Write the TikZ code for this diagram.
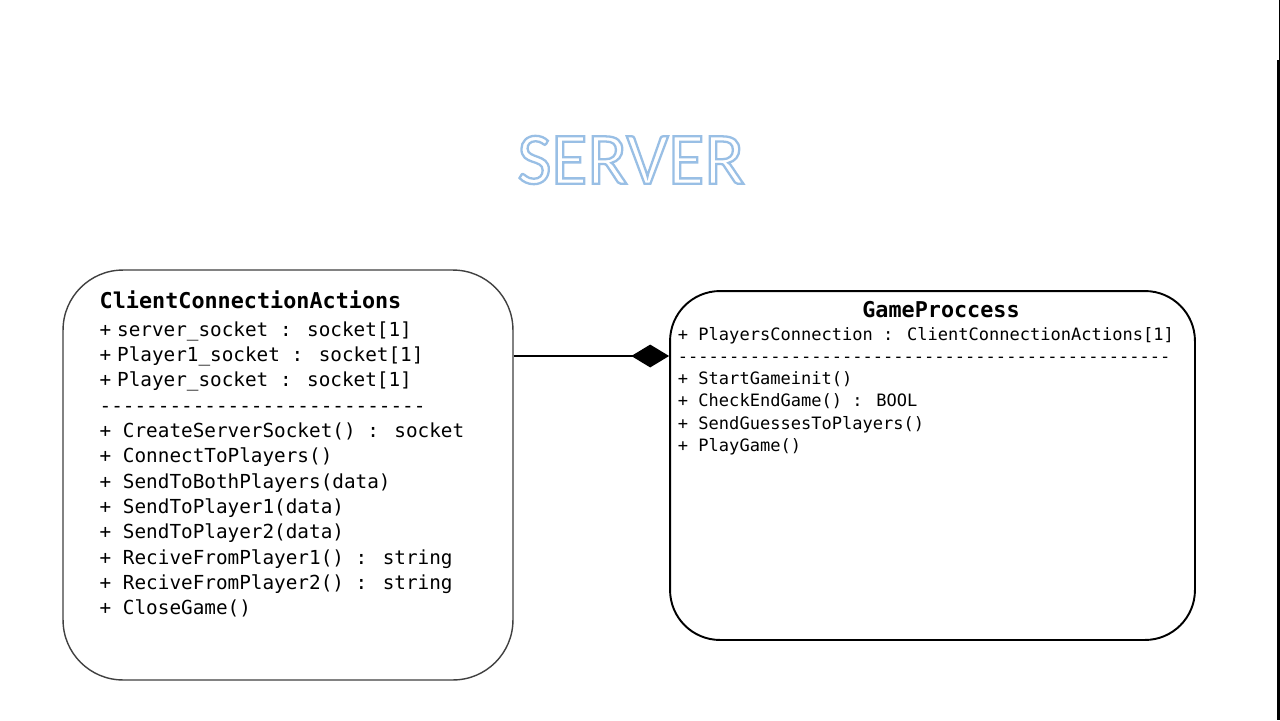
\documentclass[tikz,border=0pt]{standalone}
\usepackage{fontspec}
\setmainfont{Carlito}
\newfontfamily\umlfont[Ligatures=TeXOff]{DejaVu Sans Mono}
\usetikzlibrary{arrows.meta,positioning}
\newcommand\outlinetext[1]{\special{pdf:literal direct 2 Tr 1.3 w 0.60 0.75 0.90 RG 1 g}#1\special{pdf:literal direct 0 Tr 0 g}}
\tikzset{classbox/.style={draw,fill=white,line width=0.8pt}}
\tikzset{ccabox/.style={classbox,draw=black!75,minimum width=9cm,minimum height=8.2cm,rounded corners=1.2cm}}
\tikzset{gpbox/.style={classbox,line width=1.1pt,minimum width=10.5cm,minimum height=6.98cm,rounded corners=1cm}}
\tikzset{classtitle/.style={inner sep=0pt,font=\umlfont\bfseries\fontsize{12.4}{15}\selectfont}}
\tikzset{ccabody/.style={inner sep=0pt,align=left,font=\umlfont\fontsize{11}{14.4}\selectfont}}
\tikzset{gpbody/.style={inner sep=0pt,align=left,font=\umlfont\fontsize{9.7}{12.6}\selectfont}}
\tikzset{composition/.style={draw,line width=1.1pt,-{Diamond[length=21.5pt,width=13pt]}}}
\tikzset{headline/.style={inner sep=0pt,font=\fontsize{42}{48}\selectfont}}

\begin{document}
\begin{tikzpicture}[x=0.02cm,y=-0.02cm]
    \fill[white] (0,0) rectangle (1280,720);
    \useasboundingbox (0,0) rectangle (1280,720);
    \fill (1277,60) rectangle (1280,720);
    \fill (1279,0) rectangle (1280,60);

    % title, white letters with a blue outline
    \node[headline] (title) at (631,160) {\outlinetext{SERVER}};

    % classes
    \node[ccabox] (cca) at (288,475) {};
    \node[gpbox] (gp) at (932.5,465.5) {};

    \node[classtitle,anchor=base west] (ccaTitle) at ([shift={(37,39)}]cca.north west) {ClientConnectionActions};
    \node[ccabody,below=0.26cm of ccaTitle.base west,anchor=north west] (ccaBody) {%
        +\hspace{0.3em}server\_socket : socket[1]\\
        +\hspace{0.3em}Player1\_socket : socket[1]\\
        +\hspace{0.3em}Player\_socket : socket[1]\\
        ----------------------------\\
        + CreateServerSocket() : socket\\
        + ConnectToPlayers()\\
        + SendToBothPlayers(data)\\
        + SendToPlayer1(data)\\
        + SendToPlayer2(data)\\
        + ReciveFromPlayer1() : string\\
        + ReciveFromPlayer2() : string\\
        + CloseGame()};

    \node[classtitle,anchor=base] (gpTitle) at ([shift={(8.5,27)}]gp.north) {GameProccess};
    \node[gpbody,anchor=north west] (gpBody) at ([shift={(8.5,37)}]gp.north west) {%
        + PlayersConnection : ClientConnectionActions[1]\\
        ------------------------------------------------\\
        + StartGameinit()\\
        + CheckEndGame() : BOOL\\
        + SendGuessesToPlayers()\\
        + PlayGame()};

        \path[composition] (cca.east |- 0,356) -- (gp.west |- 0,356);
\end{tikzpicture}
\end{document}
